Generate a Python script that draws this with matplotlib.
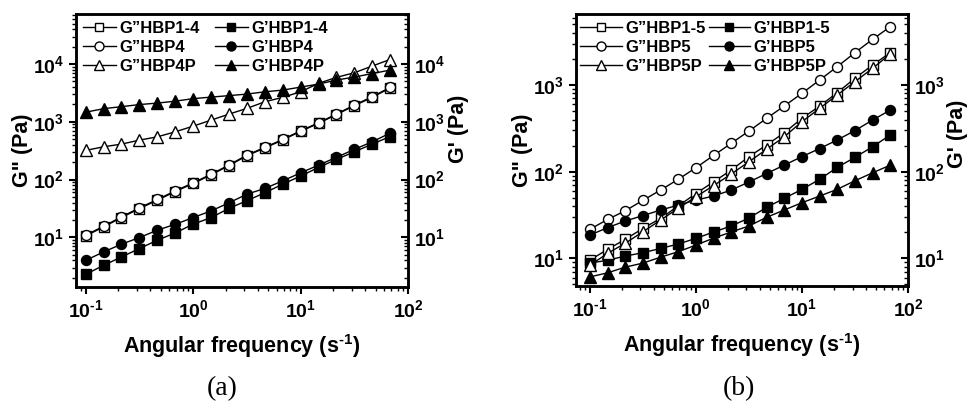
import matplotlib
matplotlib.use('Agg')
import matplotlib.pyplot as plt
from matplotlib.ticker import LogLocator, FuncFormatter, NullFormatter
import math

plt.rcParams['font.family'] = ['Liberation Sans', 'DejaVu Sans']
plt.rcParams['font.weight'] = 'bold'
plt.rcParams['mathtext.fontset'] = 'custom'
plt.rcParams['mathtext.rm'] = 'Liberation Sans:bold'
plt.rcParams['mathtext.bf'] = 'Liberation Sans:bold'
plt.rcParams['mathtext.default'] = 'bf'

# angular frequency (s^-1), same for every curve
freq = [0.1, 0.147, 0.215, 0.316, 0.464, 0.681, 1.0, 1.47, 2.15, 3.16,
        4.64, 6.81, 10.0, 14.7, 21.5, 31.6, 46.4, 68.1]

# (a)
gpp_hbp1_4 = [10.6, 15.2, 22.0, 31.5, 44.0, 62.0, 85.5, 121, 174, 259,
              352, 485, 684, 942, 1330, 1900, 2650, 3850]
gpp_hbp4 = [10.9, 15.6, 22.6, 32.4, 45.2, 63.7, 87.7, 124, 178, 265,
            360, 495, 698, 961, 1359, 1945, 2711, 3945]
gpp_hbp4p = [320, 370, 411, 482, 550, 671, 842, 1070, 1358, 1706,
             2222, 2649, 3311, 4630, 5876, 7066, 9230, 12000]
gp_hbp1_4 = [2.29, 3.28, 4.57, 6.39, 8.92, 11.9, 16.9, 22.0, 31.6, 43.1,
             58.9, 83.2, 115, 162, 223, 302, 411, 555]
gp_hbp4 = [4.0, 5.6, 7.6, 9.9, 13.3, 16.8, 22.0, 28.7, 39.5, 55.8,
           70.1, 94.9, 130.5, 178, 242, 333, 450, 637]
gp_hbp4p = [1470, 1690, 1830, 1990, 2110, 2280, 2520, 2680, 2840, 3020,
            3310, 3540, 3990, 4500, 5280, 5960, 6840, 7870]

# (b)
gpp_hbp1_5 = [9.5, 12.7, 16.5, 22.1, 28.9, 40.1, 55.9, 76.4, 104, 149,
              203, 281, 412, 572, 815, 1195, 1702, 2360]
gpp_hbp5 = [21.6, 28.1, 35.3, 46.6, 61.3, 81.5, 111, 154, 212, 294,
            412, 572, 802, 1142, 1627, 2360, 3370, 4710]
gpp_hbp5p = [8.3, 11.4, 14.9, 20.2, 27.6, 37.7, 51.3, 69.1, 93.8, 130,
             181, 253, 377, 538, 767, 1092, 1560, 2280]
gp_hbp1_5 = [8.8, 9.5, 10.6, 11.6, 13.0, 14.6, 17.0, 20.1, 23.6, 29.1,
             38.7, 49.2, 62.5, 81.5, 112, 146, 194, 265]
gp_hbp5 = [18.5, 22.6, 26.9, 31.1, 36.0, 41.1, 47.0, 52.3, 61.3, 75.9,
           95.1, 119, 149, 185, 232, 298, 394, 514]
gp_hbp5p = [6.1, 6.8, 7.9, 8.8, 10.3, 11.9, 14.2, 17.1, 20.1, 23.6,
            29.7, 36.1, 43.8, 52.3, 62.5, 78.5, 97.0, 119]

HY = u'\u2010'  # short hyphen instead of the long mathtext minus


def sup10(v, pos):
    if v <= 0:
        return ''
    e = int(round(math.log10(v)))
    if e < 0:
        return r'$10^{%s%d}$' % (HY, -e)
    return r'$10^{%d}$' % e


def style_log(a):
    a.set_xscale('log')
    a.set_yscale('log')
    a.xaxis.set_major_locator(LogLocator(base=10, numticks=10))
    a.xaxis.set_minor_locator(LogLocator(base=10, subs=range(2, 10), numticks=20))
    a.yaxis.set_major_locator(LogLocator(base=10, numticks=10))
    a.yaxis.set_minor_locator(LogLocator(base=10, subs=range(2, 10), numticks=20))
    a.xaxis.set_major_formatter(FuncFormatter(sup10))
    a.yaxis.set_major_formatter(FuncFormatter(sup10))
    a.xaxis.set_minor_formatter(NullFormatter())
    a.yaxis.set_minor_formatter(NullFormatter())
    for s in a.spines.values():
        s.set_linewidth(1.8)


def panel(rect, series, xlim, ylim, hlen, colsp, leg_xy, rlab_y, letter, letter_x):
    ax = fig.add_axes(rect)
    style_log(ax)
    for y, m, filled, ms, lab in series:
        ax.plot(freq, y, color='k', lw=1.0, marker=m, ms=ms, mew=1.0,
                mec='k', mfc='k' if filled else 'white', label=lab)
    ax.set_xlim(*xlim)
    ax.set_ylim(*ylim)
    ax.tick_params(axis='both', which='major', direction='out', length=5, width=1.5,
                   labelsize=14, top=False, right=False)
    ax.tick_params(axis='both', which='minor', direction='out', length=3, width=1.0,
                   top=False, right=False)
    ax.set_xlabel('Angular frequency (s$^{%s1}$)' % HY, fontsize=15.5,
                  fontweight='bold', labelpad=8)
    ax.set_ylabel('G" (Pa)', fontsize=15.5, fontweight='bold', labelpad=0)

    h, l = ax.get_legend_handles_labels()
    order = [0, 2, 4, 1, 3, 5]
    ax.legend([h[i] for i in order], [l[i] for i in order], ncol=2, frameon=False,
              loc='upper left', bbox_to_anchor=leg_xy, fontsize=12,
              handlelength=hlen, handletextpad=0.2, columnspacing=colsp,
              labelspacing=0.25, borderaxespad=0, borderpad=0, markerscale=0.9)

    ax2 = ax.twinx()
    style_log(ax2)
    ax2.set_xlim(*xlim)
    ax2.set_ylim(*ylim)
    ax2.tick_params(axis='y', which='major', direction='in', length=5, width=1.5,
                    labelsize=14, left=False, pad=4)
    ax2.tick_params(axis='y', which='minor', direction='in', length=3, width=1.0, left=False)
    ax2.set_ylabel("G' (Pa)", fontsize=15.5, fontweight='bold', labelpad=2)
    ax2.yaxis.label.set_y(rlab_y)

    fig.text(letter_x, 0.04, letter, family='Liberation Serif', fontweight='normal',
             fontsize=20, ha='center', va='center')
    return ax


fig = plt.figure(figsize=(9.69, 4.05), dpi=100)

series_a = [
    (gpp_hbp1_4, 's', False, 6.5, u'G\u201dHBP1-4'),
    (gp_hbp1_4, 's', True, 6.5, u'G\u2019HBP1-4'),
    (gpp_hbp4, 'o', False, 7.2, u'G\u201dHBP4'),
    (gp_hbp4, 'o', True, 7.2, u'G\u2019HBP4'),
    (gpp_hbp4p, '^', False, 8, u'G\u201dHBP4P'),
    (gp_hbp4p, '^', True, 8, u'G\u2019HBP4P'),
]
series_b = [
    (gpp_hbp1_5, 's', False, 6.5, u'G\u201dHBP1-5'),
    (gp_hbp1_5, 's', True, 6.5, u'G\u2019HBP1-5'),
    (gpp_hbp5, 'o', False, 7.2, u'G\u201dHBP5'),
    (gp_hbp5, 'o', True, 7.2, u'G\u2019HBP5'),
    (gpp_hbp5p, '^', False, 8, u'G\u201dHBP5P'),
    (gp_hbp5p, '^', True, 8, u'G\u2019HBP5P'),
]

panel([0.0784, 0.2914, 0.3426, 0.674], series_a, (0.081, 100), (1.38, 73600),
      2.0, 0.9, (0.02, 0.975), 0.58, '(a)', 0.229)
panel([0.5944, 0.2938, 0.3426, 0.6716], series_b, (0.074, 100), (4.79, 6600),
      2.5, 0.2, (0.012, 0.975), 0.56, '(b)', 0.763)

fig.savefig('out.png', dpi=100)
